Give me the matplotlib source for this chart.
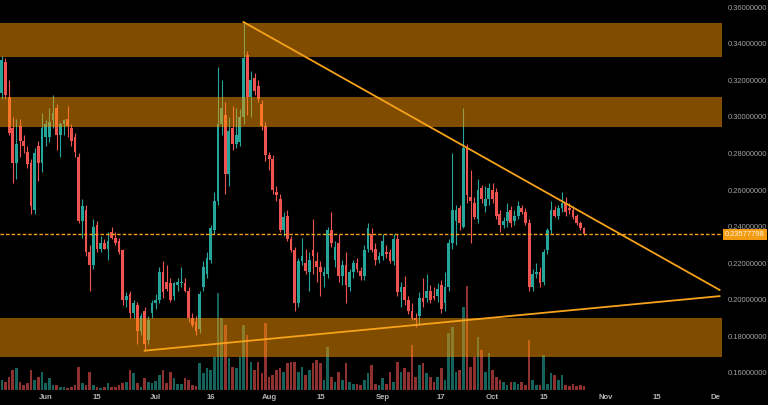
import matplotlib
matplotlib.use('Agg')
import matplotlib.pyplot as plt
import matplotlib.dates as mdates
import numpy as np
import pandas as pd

# daily candles, 20 May -> 26 Oct
dates = pd.date_range('2018-05-20', periods=160, freq='D')

opens = [0.313, 0.330, 0.311, 0.294, 0.275, 0.295, 0.287, 0.281, 0.275, 0.249, 0.284, 0.275,
         0.289, 0.289, 0.298, 0.305, 0.290, 0.296, 0.299, 0.294, 0.289, 0.278, 0.243, 0.249,
         0.226, 0.219, 0.241, 0.228, 0.231, 0.228, 0.237, 0.234, 0.232, 0.227, 0.200, 0.203,
         0.193, 0.197, 0.183, 0.194, 0.178, 0.193, 0.198, 0.200, 0.215, 0.210, 0.209, 0.202,
         0.208, 0.209, 0.209, 0.205, 0.190, 0.188, 0.184, 0.207, 0.214, 0.222, 0.238, 0.254,
         0.296, 0.301, 0.269, 0.294, 0.285, 0.286, 0.300, 0.334, 0.311, 0.321, 0.317, 0.307,
         0.295, 0.279, 0.277, 0.259, 0.255, 0.238, 0.246, 0.233, 0.227, 0.198, 0.221, 0.220,
         0.215, 0.227, 0.221, 0.218, 0.213, 0.214, 0.238, 0.222, 0.231, 0.213, 0.219, 0.207,
         0.215, 0.220, 0.216, 0.213, 0.228, 0.236, 0.228, 0.222, 0.224, 0.226, 0.226, 0.221,
         0.233, 0.204, 0.207, 0.200, 0.194, 0.190, 0.191, 0.201, 0.201, 0.205, 0.202, 0.202,
         0.208, 0.198, 0.207, 0.231, 0.243, 0.250, 0.240, 0.283, 0.256, 0.253, 0.244, 0.261,
         0.251, 0.255, 0.260, 0.259, 0.247, 0.241, 0.243, 0.249, 0.243, 0.246, 0.250, 0.248,
         0.242, 0.207, 0.214, 0.215, 0.210, 0.227, 0.238, 0.249, 0.246, 0.250, 0.253, 0.250,
         0.249, 0.246, 0.242, 0.239]
highs = [0.333, 0.332, 0.320, 0.300, 0.299, 0.299, 0.290, 0.284, 0.277, 0.283, 0.287, 0.302,
         0.298, 0.305, 0.312, 0.307, 0.297, 0.299, 0.306, 0.296, 0.291, 0.280, 0.255, 0.252,
         0.230, 0.244, 0.243, 0.235, 0.233, 0.237, 0.240, 0.237, 0.234, 0.228, 0.204, 0.205,
         0.200, 0.199, 0.193, 0.196, 0.191, 0.200, 0.203, 0.218, 0.221, 0.219, 0.212, 0.210,
         0.212, 0.218, 0.212, 0.207, 0.193, 0.191, 0.205, 0.221, 0.226, 0.241, 0.259, 0.327,
         0.320, 0.308, 0.300, 0.306, 0.305, 0.304, 0.352, 0.336, 0.325, 0.324, 0.320, 0.309,
         0.297, 0.281, 0.279, 0.262, 0.258, 0.248, 0.249, 0.235, 0.229, 0.223, 0.234, 0.228,
         0.226, 0.244, 0.226, 0.221, 0.218, 0.240, 0.248, 0.232, 0.236, 0.222, 0.226, 0.217,
         0.222, 0.223, 0.218, 0.230, 0.242, 0.239, 0.231, 0.226, 0.236, 0.230, 0.228, 0.236,
         0.236, 0.210, 0.213, 0.202, 0.198, 0.193, 0.204, 0.212, 0.214, 0.208, 0.207, 0.209,
         0.211, 0.215, 0.233, 0.280, 0.252, 0.252, 0.305, 0.285, 0.271, 0.256, 0.266, 0.263,
         0.262, 0.264, 0.264, 0.261, 0.249, 0.245, 0.253, 0.251, 0.249, 0.254, 0.252, 0.250,
         0.244, 0.217, 0.220, 0.218, 0.228, 0.239, 0.254, 0.251, 0.252, 0.259, 0.256, 0.253,
         0.251, 0.247, 0.243, 0.240]
lows = [0.310, 0.310, 0.290, 0.264, 0.266, 0.278, 0.280, 0.272, 0.247, 0.247, 0.265, 0.270,
        0.284, 0.286, 0.294, 0.282, 0.278, 0.290, 0.289, 0.284, 0.278, 0.242, 0.234, 0.224,
        0.205, 0.217, 0.226, 0.226, 0.228, 0.222, 0.233, 0.230, 0.225, 0.197, 0.196, 0.190,
        0.190, 0.176, 0.181, 0.172, 0.176, 0.190, 0.195, 0.198, 0.201, 0.205, 0.199, 0.200,
        0.205, 0.207, 0.204, 0.188, 0.185, 0.181, 0.182, 0.205, 0.212, 0.220, 0.236, 0.252,
        0.290, 0.258, 0.262, 0.282, 0.283, 0.284, 0.296, 0.301, 0.300, 0.312, 0.308, 0.293,
        0.276, 0.271, 0.258, 0.254, 0.237, 0.235, 0.232, 0.226, 0.194, 0.196, 0.219, 0.214,
        0.205, 0.214, 0.210, 0.202, 0.207, 0.212, 0.229, 0.218, 0.210, 0.208, 0.198, 0.205,
        0.212, 0.215, 0.211, 0.211, 0.226, 0.226, 0.219, 0.220, 0.222, 0.223, 0.220, 0.219,
        0.202, 0.196, 0.197, 0.192, 0.189, 0.185, 0.186, 0.196, 0.199, 0.198, 0.200, 0.199,
        0.193, 0.194, 0.205, 0.228, 0.230, 0.238, 0.239, 0.253, 0.231, 0.244, 0.242, 0.253,
        0.248, 0.252, 0.253, 0.244, 0.237, 0.239, 0.240, 0.240, 0.241, 0.244, 0.247, 0.241,
        0.205, 0.205, 0.212, 0.207, 0.208, 0.225, 0.236, 0.245, 0.244, 0.248, 0.246, 0.247,
        0.244, 0.241, 0.238, 0.2355]
closes = [0.331, 0.312, 0.291, 0.275, 0.285, 0.287, 0.284, 0.274, 0.251, 0.280, 0.275, 0.294,
          0.296, 0.297, 0.302, 0.290, 0.296, 0.298, 0.295, 0.287, 0.281, 0.243, 0.251, 0.226,
          0.219, 0.240, 0.228, 0.231, 0.228, 0.232, 0.234, 0.231, 0.226, 0.200, 0.202, 0.193,
          0.198, 0.183, 0.191, 0.176, 0.189, 0.198, 0.200, 0.215, 0.204, 0.206, 0.200, 0.209,
          0.210, 0.210, 0.205, 0.190, 0.186, 0.183, 0.203, 0.218, 0.223, 0.239, 0.254, 0.296,
          0.305, 0.269, 0.292, 0.285, 0.290, 0.300, 0.332, 0.311, 0.320, 0.314, 0.310, 0.295,
          0.279, 0.277, 0.260, 0.257, 0.238, 0.245, 0.233, 0.227, 0.198, 0.221, 0.224, 0.216,
          0.222, 0.224, 0.218, 0.215, 0.215, 0.238, 0.231, 0.229, 0.213, 0.219, 0.208, 0.215,
          0.220, 0.217, 0.213, 0.227, 0.239, 0.227, 0.222, 0.224, 0.232, 0.225, 0.221, 0.233,
          0.204, 0.207, 0.200, 0.194, 0.190, 0.189, 0.201, 0.199, 0.205, 0.200, 0.201, 0.206,
          0.195, 0.207, 0.231, 0.249, 0.249, 0.242, 0.283, 0.257, 0.254, 0.245, 0.260, 0.255,
          0.255, 0.261, 0.255, 0.246, 0.241, 0.243, 0.248, 0.242, 0.246, 0.251, 0.248, 0.242,
          0.207, 0.214, 0.215, 0.209, 0.226, 0.238, 0.249, 0.246, 0.250, 0.253, 0.248, 0.249,
          0.245, 0.242, 0.239, 0.23578]
volumes = [10, 8, 13, 20, 22, 8, 5, 7, 20, 10, 13, 18,
           7, 12, 5, 5, 3, 3, 2, 3, 5, 23, 7, 5,
           18, 5, 3, 2, 3, 7, 3, 3, 5, 7, 8, 20,
           17, 7, 3, 12, 8, 7, 9,
           15, 20, 7, 18, 12, 6, 6, 12, 10, 5, 4,
           27, 17, 22, 20, 33, 97, 72, 65, 32, 23, 22, 33,
           65, 55, 28, 20, 28, 17, 67, 13, 15, 20, 22, 18, 27, 28,
           28, 18, 23, 15, 20, 27, 30, 27, 10, 43, 13, 8,
           18, 10, 27, 8, 6, 6, 5, 10, 17, 25, 6, 5,
           12, 6, 18, 8, 28, 18, 22, 18, 45, 13, 25, 27,
           17, 13, 8, 13, 22,
           10, 57, 63, 18, 20, 83, 104, 23, 33, 53, 40, 18, 37,
           20, 13, 10, 8, 5, 8, 8, 6, 8, 5, 50, 10, 5, 5,
           35, 6, 17, 15, 10, 15, 5, 4, 6, 4, 5, 4]

# support / resistance zones
zones = [(0.3325, 0.3510), (0.2944, 0.3108), (0.1688, 0.1900)]
last_price = 0.23577798

# trend lines (date, price)
down_dates = ['2018-07-25', '2018-12-02']
down_prices = [0.3518, 0.2054]
up_dates = ['2018-06-28', '2018-12-02']
up_prices = [0.1722, 0.2020]

tick_dates = ['2018-06-01', '2018-06-15', '2018-07-01', '2018-07-16', '2018-08-01', '2018-08-15',
              '2018-09-01', '2018-09-17', '2018-10-01', '2018-10-15', '2018-11-01', '2018-11-15',
              '2018-12-01']
tick_labels = ['Jun', '15', 'Jul', '16', 'Aug', '15', 'Sep', '17', 'Oct', '15', 'Nov', '15', 'De']
price_ticks = [0.16, 0.18, 0.20, 0.22, 0.24, 0.26, 0.28, 0.30, 0.32, 0.34, 0.36]

up_col = '#26a69a'
down_col = '#ef5350'
orange = '#ff9800'
line_col = '#f7a21b'

plt.rcParams['font.family'] = ['Liberation Sans', 'DejaVu Sans']

fig = plt.figure(figsize=(7.68, 4.05), dpi=100, facecolor='black')
ax = fig.add_axes([0, 15 / 405, 722 / 768, 390 / 405])
ax2 = ax.twinx()
ax.set_zorder(ax2.get_zorder() + 1)
ax.patch.set_visible(False)
ax2.set_facecolor('black')

x = mdates.date2num(dates)
o = np.array(opens)
c = np.array(closes)
rising = c >= o
colors = np.where(rising, up_col, down_col)

# volume underneath
ax2.bar(x, volumes, width=0.72, color=colors, alpha=0.6, linewidth=0)
ax2.set_ylim(0, max(volumes) * 3.75)
ax2.set_yticks([])

# candles
ax.vlines(x, lows, highs, colors=colors, linewidth=0.8, zorder=2)
body_lo = np.minimum(o, c)
body_h = np.maximum(np.abs(c - o), 0.0008)
ax.bar(x, body_h, bottom=body_lo, width=0.75, color=colors, linewidth=0, zorder=2)

# zones on top, semi transparent
for lo, hi in zones:
    ax.axhspan(lo, hi, color=orange, alpha=0.5, linewidth=0, zorder=3)

ax.axhline(last_price, color=line_col, linewidth=1.0, linestyle=(0, (2.5, 1.5)), zorder=4)
ax.plot(mdates.date2num(pd.to_datetime(down_dates)), down_prices, color=line_col, linewidth=1.3, zorder=4)
ax.plot(mdates.date2num(pd.to_datetime(up_dates)), up_prices, color=line_col, linewidth=1.3, zorder=4)

xmin = mdates.date2num(pd.Timestamp('2018-05-19 12:00'))
xmax = mdates.date2num(pd.Timestamp('2018-12-02 16:00'))
ax.set_xlim(xmin, xmax)
ax2.set_xlim(xmin, xmax)
ax.set_ylim(0.15071, 0.36383)

ax.yaxis.tick_right()
ax.set_yticks(price_ticks)
ax.set_yticklabels([f'{p:.8f}' for p in price_ticks])
ax.tick_params(axis='y', length=0, pad=4.5, labelsize=5.4, labelcolor='#a3a3a3')

ax.set_xticks(mdates.date2num(pd.to_datetime(tick_dates)))
ax.set_xticklabels(tick_labels, fontweight='bold')
ax.tick_params(axis='x', length=0, pad=3, labelsize=5.6, labelcolor='#b5b5b5')

for a in (ax, ax2):
    for s in a.spines.values():
        s.set_visible(False)

# current price tag
ax.text(1.004, last_price, f'{last_price:.8f}', transform=ax.get_yaxis_transform(),
        ha='left', va='center', fontsize=5.4, color='#fff3e0', clip_on=False, zorder=10,
        bbox=dict(boxstyle='square,pad=0.3', fc='#f39c12', ec='none'))

fig.savefig('out.png', dpi=100, facecolor='black')
